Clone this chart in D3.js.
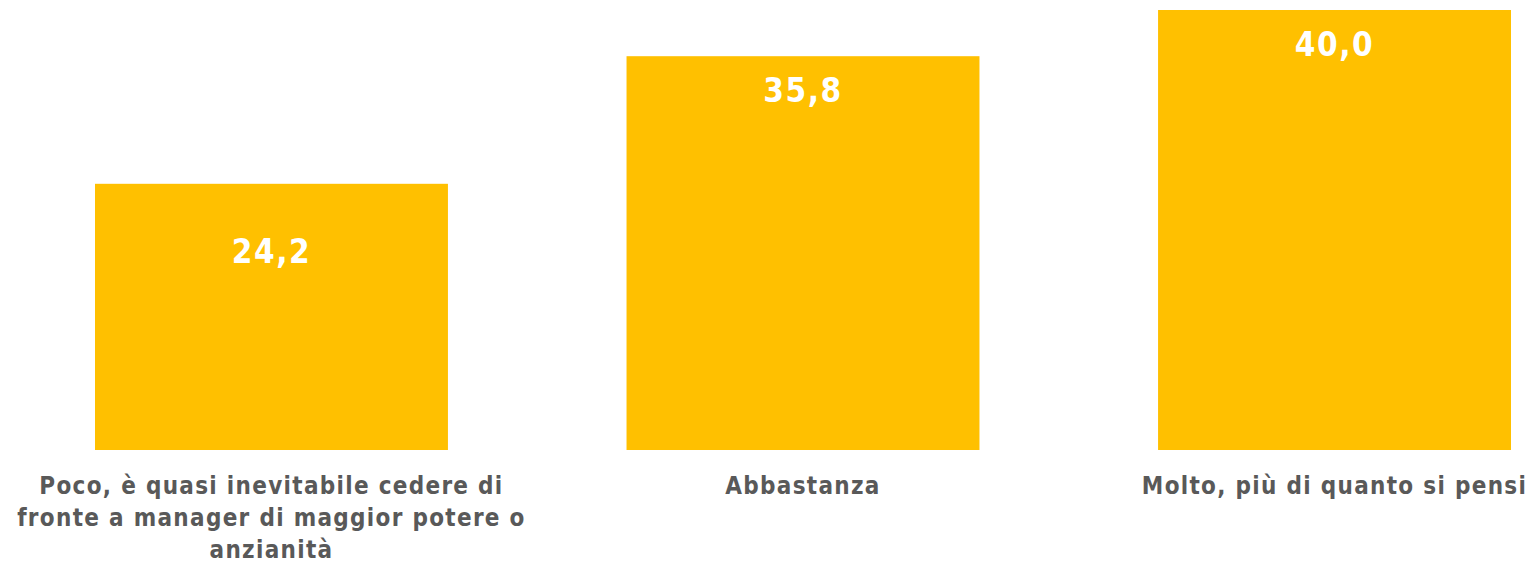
<!DOCTYPE html>
<html>
<head>
<meta charset="utf-8">
<script src="https://cdn.jsdelivr.net/npm/d3@7"></script>
<style>
  body { margin: 0; background: #fff; }
  svg { display: block; }
</style>
</head>
<body>
<div id="chart"></div>
<script>
const categories = [
    "Poco, è quasi inevitabile cedere di fronte a manager di maggior potere o anzianità",
    "Abbastanza",
    "Molto, più di quanto si pensi"
];
const values = [24.2, 35.8, 40.0];

const width = 1531, height = 567;
const baseY = 450;
const font = "'DejaVu Sans Condensed', 'DejaVu Sans', sans-serif";

const svg = d3.select("#chart")
    .append("svg")
    .attr("width", width)
    .attr("height", height);

const x = d3.scaleBand()
    .domain(categories)
    .range([95, 1511])
    .paddingInner(0.336)
    .paddingOuter(0);

const y = d3.scaleLinear()
    .domain([0, 40])
    .range([baseY, 10]);

// barre
svg.append("g")
    .selectAll("rect")
    .data(values)
    .join("rect")
    .attr("x", (d, i) => x(categories[i]))
    .attr("y", d => y(d))
    .attr("width", x.bandwidth())
    .attr("height", d => baseY - y(d))
    .attr("fill", "#FFC000");

// etichette valori (la prima e' piu' in basso)
const labelDy = [79, 46, 46];
svg.append("g")
    .selectAll("text")
    .data(values)
    .join("text")
    .attr("x", (d, i) => x(categories[i]) + x.bandwidth() / 2)
    .attr("y", (d, i) => y(d) + labelDy[i])
    .attr("text-anchor", "middle")
    .attr("fill", "#fff")
    .style("font", `bold 33px ${font}`)
    .style("letter-spacing", "1.6px")
    .text(d => d.toFixed(1).replace(".", ","));

// etichette categorie, a capo se troppo lunghe
const catLabels = svg.append("g")
    .selectAll("text")
    .data(categories)
    .join("text")
    .attr("x", d => x(d) + x.bandwidth() / 2)
    .attr("y", 494)
    .attr("text-anchor", "middle")
    .attr("fill", "#595959")
    .style("font", `bold 24px ${font}`)
    .style("letter-spacing", "1.3px");

catLabels.each(function(d) {
    const t = d3.select(this);
    const maxW = 525;
    const words = d.split(" ");
    let line = [];
    let tspan = t.append("tspan").attr("x", t.attr("x")).attr("dy", 0);
    words.forEach(w => {
        line.push(w);
        tspan.text(line.join(" "));
        if (tspan.node().getComputedTextLength() > maxW && line.length > 1) {
            line.pop();
            tspan.text(line.join(" "));
            line = [w];
            tspan = t.append("tspan").attr("x", t.attr("x")).attr("dy", 32).text(w);
        }
    });
});
</script>
</body>
</html>
